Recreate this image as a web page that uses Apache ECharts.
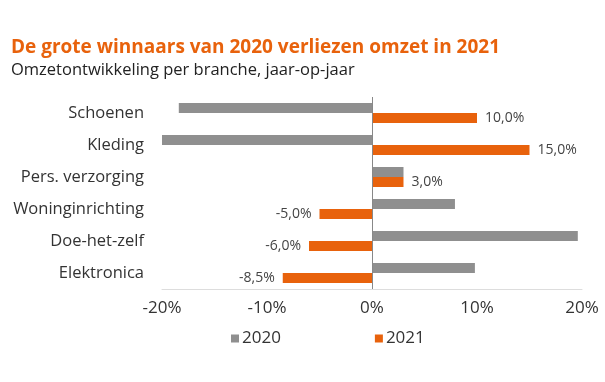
<!DOCTYPE html>
<html><head><meta charset="utf-8">
<script src="https://cdn.jsdelivr.net/npm/echarts@6/dist/echarts.min.js"></script>
<style>html,body{margin:0;padding:0;background:#fff}#c{width:605px;height:382px}</style>
</head><body><div id="c"></div>
<script>
const categories = ['Schoenen', 'Kleding', 'Pers. verzorging', 'Woninginrichting', 'Doe-het-zelf', 'Elektronica'];
const values2020 = [-18.4, -20.1, 3.0, 7.9, 19.6, 9.8];
const values2021 = [10.0, 15.0, 3.0, -5.0, -6.0, -8.5];
const tickValues = [-20, -10, 0, 10, 20];

const GRAY = '#8f8f8f', ORANGE = '#e8620c';
const font = '"Open Sans", sans-serif';
const chart = echarts.init(document.getElementById('c'), null, {renderer: 'canvas'});
chart.setOption({
  animation: false,
  title: [
    {text: 'De grote winnaars van 2020 verliezen omzet in 2021', left: 6, top: 33,
     textStyle: {color: ORANGE, fontSize: 19, fontWeight: 'bold', fontFamily: font}},
    {text: 'Omzetontwikkeling per branche, jaar-op-jaar', left: 6, top: 57,
     textStyle: {color: '#222', fontSize: 16.5, fontWeight: 'normal', fontFamily: font}}
  ],
  legend: {
    bottom: 30, left: 226, itemGap: 94, itemWidth: 8, itemHeight: 8, icon: 'rect',
    textStyle: {fontSize: 17, color: '#333', fontFamily: font, padding: [0, 0, 0, -2]},
    data: ['2020', '2021']
  },
  grid: {left: 162, right: 23, top: 97, bottom: 93, containLabel: false},
  xAxis: {
    type: 'value', min: -20, max: 20, interval: 10,
    axisLine: {show: true, lineStyle: {color: '#ddd'}},
    axisTick: {show: false},
    splitLine: {show: false},
    axisLabel: {fontSize: 17, color: '#333', fontFamily: font, margin: 11,
      formatter: v => tickValues.includes(v) ? v + '%' : ''}
  },
  yAxis: {
    type: 'category', data: categories, inverse: true,
    axisLine: {show: false}, axisTick: {show: false},
    axisLabel: {fontSize: 16.5, color: '#333', fontFamily: font, margin: 18}
  },
  series: [
    {name: '2020', type: 'bar', data: values2020, barWidth: 10, barGap: '0%',
     itemStyle: {color: GRAY},
     markLine: {symbol: 'none', silent: true, label: {show: false},
       lineStyle: {color: '#888', type: 'solid', width: 1}, data: [{xAxis: 0}]}},
    {name: '2021', type: 'bar', barWidth: 10, barGap: '0%', itemStyle: {color: ORANGE},
     data: values2021.map(v => ({value: v, label: {position: v >= 0 ? 'right' : 'left'}})),
     label: {show: true, fontSize: 14, color: '#444', fontFamily: font, distance: 8,
       formatter: p => p.value.toFixed(1).replace('.', ',') + '%'}}
  ]
});
</script></body></html>
